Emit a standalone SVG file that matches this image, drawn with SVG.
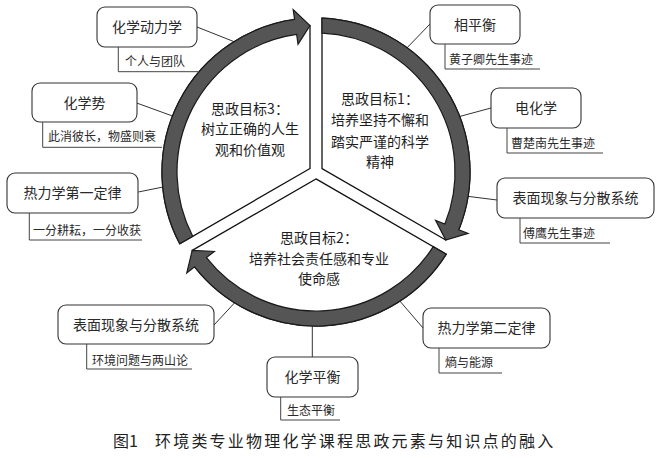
<svg xmlns="http://www.w3.org/2000/svg" width="657" height="459" viewBox="0 0 657 459">
<style>
  .sector{fill:#fff;stroke:#111;stroke-width:1.3;stroke-linejoin:miter}
  .band{fill:#555;stroke:#1a1a1a;stroke-width:1.2;stroke-linejoin:miter}
  .box{fill:#fff;stroke:#333;stroke-width:1.1}
  .conn{fill:none;stroke:#333;stroke-width:1}
  .br{fill:none;stroke:#444;stroke-width:1}
  .lbl{font-family:"Noto Sans CJK SC","Liberation Sans",sans-serif;font-size:14px;fill:#2a2a2a;text-anchor:middle}
  .sub{font-family:"Noto Sans CJK SC","Liberation Sans",sans-serif;font-size:12px;fill:#2a2a2a}
  .goal{font-family:"Noto Sans CJK SC","Liberation Sans",sans-serif;font-size:14px;fill:#1e1e1e;text-anchor:middle}
  .cap{font-family:"Noto Sans CJK SC","Liberation Serif",serif;font-size:16px;fill:#222}
</style>
<defs>
  <g id="wedge">
    <path class="sector" d="M6,-3.46 L6,-153.88 A154,154 0 0 1 142.79,57.69 L129.77,67.99 Z"/>
    <path class="band" d="M6,-153.88 A154,154 0 0 1 142.79,57.69 L152.06,61.44 L129.77,67.99 L119.61,48.32 L128.88,52.07 A139,139 0 0 0 6,-138.87 Z"/>
  </g>
</defs>
<rect width="657" height="459" fill="#fff"/>
<g id="connectors">
  <line class="conn" x1="197" y1="27" x2="240" y2="44"/>
  <line class="conn" x1="136.7" y1="103" x2="178" y2="118"/>
  <line class="conn" x1="138.3" y1="192" x2="169" y2="185.8"/>
  <line class="conn" x1="430" y1="24" x2="403" y2="52"/>
  <line class="conn" x1="491" y1="108" x2="454" y2="118"/>
  <line class="conn" x1="497" y1="200" x2="462" y2="195.6"/>
  <line class="conn" x1="214" y1="325" x2="239.5" y2="297.5"/>
  <line class="conn" x1="312.3" y1="357.3" x2="312.3" y2="318"/>
  <line class="conn" x1="423.3" y1="328.3" x2="395.5" y2="296"/>
</g>
<g id="goal1">
  <use href="#wedge" transform="translate(316,172)"/>
  <text class="goal" x="380" y="103.5">思政目标1：</text>
  <text class="goal" x="380" y="125">培养坚持不懈和</text>
  <text class="goal" x="380" y="146.5">踏实严谨的科学</text>
  <text class="goal" x="380" y="167">精神</text>
</g>
<g id="goal2">
  <use href="#wedge" transform="translate(316,172) rotate(120)"/>
  <text class="goal" x="319" y="242.5">思政目标2：</text>
  <text class="goal" x="319" y="263.5">培养社会责任感和专业</text>
  <text class="goal" x="319" y="283.5">使命感</text>
</g>
<g id="goal3">
  <use href="#wedge" transform="translate(316,172) rotate(240)"/>
  <text class="goal" x="250" y="113.5">思政目标3：</text>
  <text class="goal" x="250" y="133.5">树立正确的人生</text>
  <text class="goal" x="250" y="154.5">观和价值观</text>
</g>
<g id="node-kinetics">
  <rect class="box" x="97" y="7" width="100" height="40" rx="8"/>
  <text class="lbl" x="147" y="32">化学动力学</text>
  <path class="br" d="M118.3,47 V71.7 H198"/>
  <text class="sub" x="125" y="66">个人与团队</text>
</g>
<g id="node-potential">
  <rect class="box" x="32" y="83" width="105" height="39" rx="8"/>
  <text class="lbl" x="84.5" y="107.5">化学势</text>
  <path class="br" d="M42.7,122 V147.3 H162"/>
  <text class="sub" x="48" y="140.5">此消彼长，物盛则衰</text>
</g>
<g id="node-first-law">
  <rect class="box" x="7" y="173" width="131" height="40" rx="8"/>
  <text class="lbl" x="72.5" y="198">热力学第一定律</text>
  <path class="br" d="M29.3,213 V240 H142"/>
  <text class="sub" x="33" y="234.5">一分耕耘，一分收获</text>
</g>
<g id="node-phase">
  <rect class="box" x="430" y="5" width="90" height="39" rx="8"/>
  <text class="lbl" x="475" y="29.5">相平衡</text>
  <path class="br" d="M445,44 V69 H540"/>
  <text class="sub" x="449" y="63.5">黄子卿先生事迹</text>
</g>
<g id="node-electro">
  <rect class="box" x="491" y="88" width="90" height="40" rx="8"/>
  <text class="lbl" x="536" y="113">电化学</text>
  <path class="br" d="M507,128 V153 H603"/>
  <text class="sub" x="511" y="147.5">曹楚南先生事迹</text>
</g>
<g id="node-surface-r">
  <rect class="box" x="497" y="178" width="157" height="40" rx="8"/>
  <text class="lbl" x="575.5" y="203">表面现象与分散系统</text>
  <path class="br" d="M520,218 V243 H610"/>
  <text class="sub" x="523" y="237.5">傅鹰先生事迹</text>
</g>
<g id="node-surface-l">
  <rect class="box" x="58" y="305" width="156" height="39" rx="8"/>
  <text class="lbl" x="136" y="329.5">表面现象与分散系统</text>
  <path class="br" d="M86.7,344 V369 H192"/>
  <text class="sub" x="92" y="364.5">环境问题与两山论</text>
</g>
<g id="node-equilibrium">
  <rect class="box" x="267" y="357" width="91" height="40" rx="8"/>
  <text class="lbl" x="312.5" y="382">化学平衡</text>
  <path class="br" d="M280.7,397 V420 H340"/>
  <text class="sub" x="287" y="414.5">生态平衡</text>
</g>
<g id="node-second-law">
  <rect class="box" x="423" y="308" width="127" height="40" rx="8"/>
  <text class="lbl" x="486.5" y="333">热力学第二定律</text>
  <path class="br" d="M439,348 V373 H502"/>
  <text class="sub" x="445" y="366.5">熵与能源</text>
</g>
<g id="caption">
  <text class="cap" x="113" y="447">图1</text>
  <text class="cap" x="155" y="447" letter-spacing="2.2">环境类专业物理化学课程思政元素与知识点的融入</text>
</g>
</svg>
